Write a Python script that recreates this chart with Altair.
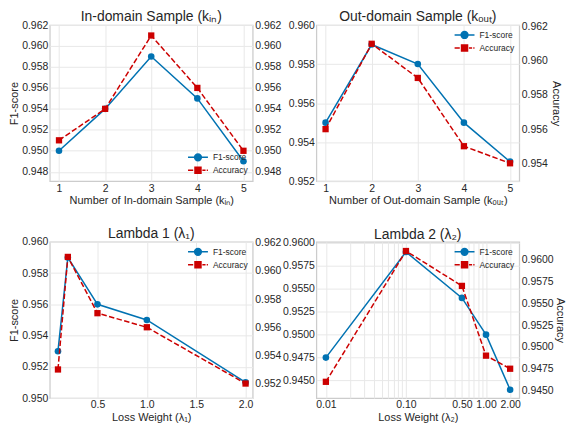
import altair as alt
import pandas as pd

SERIES = ["F1-score", "Accuracy"]
BLUE = "#0072B2"
RED = "#CC0000"
FONT = "Liberation Sans"
TXT = "#262626"

# Panel 1: in-domain sample
kin_x = [1, 2, 3, 4, 5]
kin_f1 = [0.950, 0.954, 0.959, 0.955, 0.949]
kin_acc = [0.951, 0.954, 0.961, 0.956, 0.950]
# Panel 2: out-domain sample
kout_x = [1, 2, 3, 4, 5]
kout_f1 = [0.955, 0.959, 0.958, 0.955, 0.953]
kout_acc = [0.956, 0.961, 0.959, 0.955, 0.954]
# Panel 3: lambda 1
lam1_x = [0.1, 0.2, 0.5, 1.0, 2.0]
lam1_f1 = [0.953, 0.959, 0.956, 0.955, 0.951]
lam1_acc = [0.953, 0.961, 0.957, 0.956, 0.952]
# Panel 4: lambda 2
lam2_x = [0.01, 0.1, 0.5, 1.0, 2.0]
lam2_f1 = [0.9475, 0.959, 0.954, 0.950, 0.944]
lam2_acc = [0.946, 0.961, 0.957, 0.949, 0.9475]

# tick labels
k_ticks = [1, 2, 3, 4, 5]
lam1_ticks = [0.5, 1.0, 1.5, 2.0]
lam2_ticks = [0.01, 0.1, 0.5, 1.0, 2.0]
lam2_grid = [0.01, 0.02, 0.03, 0.04, 0.05, 0.06, 0.07, 0.08, 0.09,
             0.1, 0.2, 0.3, 0.4, 0.5, 0.6, 0.7, 0.8, 0.9, 1.0, 2.0]
p1_left_ticks = [0.948, 0.950, 0.952, 0.954, 0.956, 0.958, 0.960, 0.962]
p2_left_ticks = [0.952, 0.954, 0.956, 0.958, 0.960]
p2_right_ticks = [0.954, 0.956, 0.958, 0.960, 0.962]
p3_left_ticks = [0.950, 0.952, 0.954, 0.956, 0.958, 0.960]
p3_right_ticks = [0.952, 0.954, 0.956, 0.958, 0.960, 0.962]
p4_ticks = [0.9450, 0.9475, 0.9500, 0.9525, 0.9550, 0.9575, 0.9600]

W, H = 204, 157
LEFT_GRID = "#e8e8e8"
RIGHT_GRID = "#cccccc"

F1_PATH = "M-2.5,0L2.5,0M0.85,0A0.85,0.85,0,1,1,-0.85,0A0.85,0.85,0,1,1,0.85,0Z"
ACC_PATH = ("M-2.5,0L-1.2,0M-0.75,-0.75L0.75,-0.75L0.75,0.75L-0.75,0.75Z"
            "M1.1,0L1.9,0M2.2,0L2.5,0")


def panel(xv, f1, acc, title, x_scale, x_axis, l_scale, l_axis, r_scale, r_axis, legend_orient):
    df = pd.DataFrame({"x": xv, "f1": f1, "acc": acc})
    base = alt.Chart(df)
    X = alt.X("x:Q", scale=x_scale, axis=x_axis)
    YL = alt.Y("f1:Q", scale=l_scale, axis=l_axis)
    YR = alt.Y("acc:Q", scale=r_scale, axis=r_axis)
    left = alt.layer(
        base.mark_line(color=BLUE, strokeWidth=1.5).encode(x=X, y=YL),
        base.mark_point(shape="circle", filled=True, color=BLUE, size=44, opacity=1).encode(x=X, y=YL),
    )
    right = alt.layer(
        base.mark_line(color=RED, strokeWidth=1.5, strokeDash=[5.5, 2.4]).encode(x=X, y=YR),
        base.mark_point(shape="square", filled=True, color=RED, size=40, opacity=1).encode(x=X, y=YR),
    )
    leg = alt.Legend(title=None, orient=legend_orient, labelFont=FONT, labelFontSize=8.5,
                     labelColor=TXT, symbolSize=64, symbolStrokeWidth=1.5, labelOffset=10,
                     rowPadding=0, padding=1, offset=4)
    sdf = pd.DataFrame({"series": SERIES})
    key = alt.Chart(sdf).mark_point(filled=True, size=64, opacity=1).transform_filter(
        "datum.series == 'none'"
    ).encode(
        fill=alt.Fill("series:N", scale=alt.Scale(domain=SERIES, range=[BLUE, RED]), legend=leg),
        stroke=alt.Stroke("series:N", scale=alt.Scale(domain=SERIES, range=[BLUE, RED]), legend=leg),
        shape=alt.Shape("series:N", scale=alt.Scale(domain=SERIES, range=[F1_PATH, ACC_PATH]), legend=leg),
    )
    return alt.layer(left, right, key).resolve_scale(y="independent").properties(
        width=W, height=H,
        title=alt.TitleParams(title, font=FONT, fontSize=14, fontWeight="normal", color=TXT,
                              offset=-4, anchor="middle"),
    )


def xaxis(title, values, fmt, label_expr=None):
    kw = dict(title=title, values=values, format=fmt, labelPadding=2, titlePadding=1,
              gridColor=LEFT_GRID)
    if label_expr:
        kw["labelExpr"] = label_expr
    return alt.Axis(**kw)


p1 = panel(
    kin_x, kin_f1, kin_acc, "In-domain Sample (kᵢₙ)",
    alt.Scale(domain=[0.8, 5.2], nice=False, zero=False),
    xaxis("Number of In-domain Sample (kᵢₙ)", k_ticks, "d"),
    alt.Scale(domain=[0.9471, 0.962], nice=False, zero=False),
    alt.Axis(title="F1-score", values=p1_left_ticks, format=".3f", gridColor=LEFT_GRID,
             labelPadding=2, titlePadding=2),
    alt.Scale(domain=[0.9471, 0.962], nice=False, zero=False),
    alt.Axis(title=None, orient="right", values=p1_left_ticks, format=".3f", gridColor=RIGHT_GRID,
             labelPadding=2),
    "bottom-right",
)
p2 = panel(
    kout_x, kout_f1, kout_acc, "Out-domain Sample (kₒᵤₜ)",
    alt.Scale(domain=[0.8, 5.2], nice=False, zero=False),
    xaxis("Number of Out-domain Sample (kₒᵤₜ)", k_ticks, "d"),
    alt.Scale(domain=[0.952, 0.960], nice=False, zero=False),
    alt.Axis(title=None, values=p2_left_ticks, format=".3f", gridColor=LEFT_GRID, labelPadding=2),
    alt.Scale(domain=[0.95295, 0.9621], nice=False, zero=False),
    alt.Axis(title="Accuracy", orient="right", values=p2_right_ticks, format=".3f",
             gridColor=RIGHT_GRID, labelPadding=2, titlePadding=3),
    "top-right",
)
p3 = panel(
    lam1_x, lam1_f1, lam1_acc, "Lambda 1 (λ₁)",
    alt.Scale(domain=[0.017, 2.072], nice=False, zero=False),
    xaxis("Loss Weight (λ₁)", lam1_ticks, ".1f"),
    alt.Scale(domain=[0.950, 0.960], nice=False, zero=False),
    alt.Axis(title="F1-score", values=p3_left_ticks, format=".3f", gridColor=LEFT_GRID,
             labelPadding=2, titlePadding=2),
    alt.Scale(domain=[0.95097, 0.96207], nice=False, zero=False),
    alt.Axis(title=None, orient="right", values=p3_right_ticks, format=".3f", gridColor=RIGHT_GRID,
             labelPadding=2),
    "top-right",
)
p4 = panel(
    lam2_x, lam2_f1, lam2_acc, "Lambda 2 (λ₂)",
    alt.Scale(type="log", domain=[0.0076, 2.6], nice=False, zero=False),
    xaxis("Loss Weight (λ₂)", lam2_grid, ".2f",
          "indexof([0.01, 0.1, 0.5, 1, 2], datum.value) >= 0 ? format(datum.value, '.2f') : ''"),
    alt.Scale(domain=[0.9431, 0.9601], nice=False, zero=False),
    alt.Axis(title=None, values=p4_ticks, format=".4f", gridColor=LEFT_GRID, labelPadding=2),
    alt.Scale(domain=[0.94414, 0.96205], nice=False, zero=False),
    alt.Axis(title="Accuracy", orient="right", values=p4_ticks, format=".4f",
             gridColor=RIGHT_GRID, labelPadding=2, titlePadding=1),
    "top-right",
)

chart = alt.concat(
    p1, p2, p3, p4, columns=2, spacing={"row": 61, "column": 64}, bounds="flush"
).resolve_scale(
    fill="independent", stroke="independent", shape="independent"
).resolve_legend(
    fill="independent", stroke="independent", shape="independent"
).properties(
    padding={"left": 0, "top": 0, "right": 0, "bottom": 0}
).configure_view(
    stroke="#cccccc", strokeWidth=1.25
).configure_axis(
    labelFont=FONT, labelFontSize=10.5, labelColor=TXT,
    titleFont=FONT, titleFontSize=11, titleFontWeight="normal", titleColor=TXT,
    ticks=False, domain=False, gridWidth=1,
)

chart.save("out.html", embed_options={"renderer": "svg", "actions": False})
